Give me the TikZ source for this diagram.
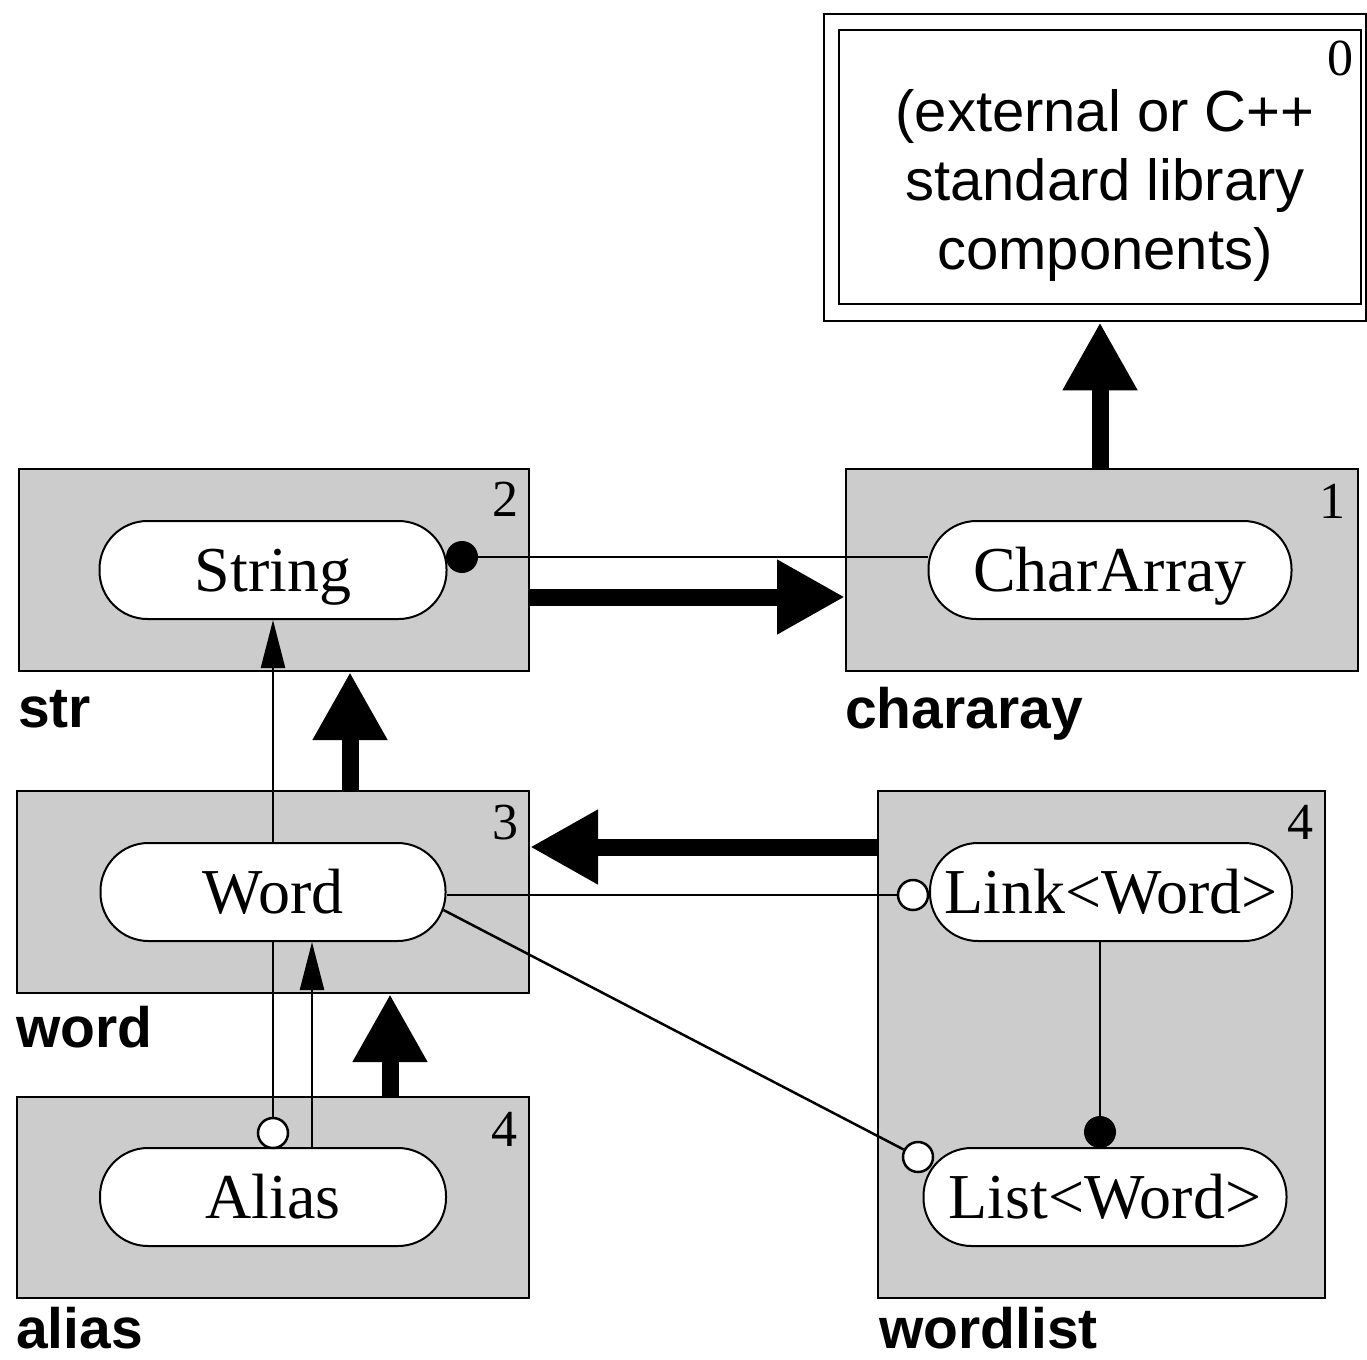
\documentclass[tikz,border=0pt]{standalone}
\usepackage{fontspec}
\setmainfont{Liberation Serif}
\setsansfont{Liberation Sans}
\usetikzlibrary{arrows.meta}
\begin{document}
\begin{tikzpicture}[x=1pt,y=-1pt,
  comp/.style={draw, line width=2pt, fill=black!20, inner sep=0pt},
  pill/.style={draw, line width=2pt, fill=white, rounded corners=48pt, minimum height=98pt, inner sep=0pt, text height=50pt, text depth=8pt, font=\fontsize{64}{70}\selectfont},
  num/.style={inner sep=0pt, anchor=north east, font=\fontsize{52}{56}\selectfont},
  pkg/.style={inner sep=0pt, anchor=base west, font=\sffamily\bfseries\fontsize{57}{60}\selectfont},
  conn/.style={line width=2.5pt},
  thinarrow/.style={line width=2.5pt, -{Triangle[width=24pt,length=48pt]}},
  bigarrow/.style={line width=17pt, -{Triangle[width=70pt,length=68pt]}},
  fdot/.style={circle, fill=black, draw, line width=2pt, minimum size=30pt, inner sep=0pt},
  odot/.style={circle, fill=white, draw, line width=2.5pt, minimum size=30pt, inner sep=0pt}]
\useasboundingbox (0,0) rectangle (1367,1359);

% external box
\node[draw, line width=2.5pt, minimum width=542pt, minimum height=307pt, inner sep=0pt] (extout) at (1095,167.5) {};
\node[draw, line width=2.5pt, minimum width=522pt, minimum height=274pt, inner sep=0pt] (ext) at (1100,167) {};
\node[align=center, font=\sffamily\fontsize{58}{69}\selectfont, inner sep=0pt] (exttext) at (1105,186) {(external or C++\\standard library\\components)};
\node[num] (n0) at ([xshift=-9pt,yshift=-12pt]ext.north east) {0};

% component boxes
\node[comp, minimum width=510pt, minimum height=202pt] (strbox) at (274,570) {};
\node[comp, minimum width=512pt, minimum height=202pt] (charbox) at (1102,570) {};
\node[comp, minimum width=512pt, minimum height=202pt] (wordbox) at (273,892) {};
\node[comp, minimum width=512pt, minimum height=201pt] (aliasbox) at (273,1197.5) {};
\node[comp, minimum width=447pt, minimum height=507pt] (wlbox) at (1101.5,1044.5) {};

% level numbers
\node[num] (n2) at ([xshift=-11pt,yshift=-14pt]strbox.north east) {2};
\node[num] (n1) at ([xshift=-13pt,yshift=-16pt]charbox.north east) {1};
\node[num] (n3) at ([xshift=-11pt,yshift=-15pt]wordbox.north east) {3};
\node[num] (n4a) at ([xshift=-12pt,yshift=-16pt]aliasbox.north east) {4};
\node[num] (n4b) at ([xshift=-12pt,yshift=-15pt]wlbox.north east) {4};

% package labels
\node[pkg] (lstr) at ([yshift=-55pt]strbox.south west) {str};
\node[pkg] (lchar) at ([yshift=-56pt]charbox.south west) {chararay};
\node[pkg] (lword) at ([yshift=-53pt]wordbox.south west) {word};
\node[pkg] (lalias) at ([yshift=-49pt]aliasbox.south west) {alias};
\node[pkg] (lwl) at ([xshift=2pt,yshift=-49pt]wlbox.south west) {wordlist};

% pills
\node[pill, minimum width=347pt] (String) at (273,570) {String};
\node[pill, minimum width=363pt] (CharArray) at (1110,570) {CharArray};
\node[pill, minimum width=345pt] (Word) at (273,892) {Word};
\node[pill, minimum width=346pt] (Alias) at (273,1197) {Alias};
\node[pill, minimum width=362pt] (Link) at (1111,892) {Link<Word>};
\node[pill, minimum width=363pt] (List) at (1105,1197) {List<Word>};

% thick dependency arrows
\coordinate (a1) at ([xshift=77pt]wordbox.north);
\draw[bigarrow] (a1) -- (a1 |- strbox.south);
\coordinate (a2) at ([yshift=-27pt]strbox.east);
\draw[bigarrow] (a2) -- (a2 -| charbox.west);
\coordinate (a3) at ([yshift=-57pt]wlbox.north west);
\draw[bigarrow] (a3) -- (a3 -| wordbox.east);
\coordinate (a4) at ([xshift=117pt]aliasbox.north);
\draw[bigarrow] (a4) -- (a4 |- wordbox.south);
\coordinate (a5) at ([xshift=-2pt]charbox.north);
\draw[bigarrow] (a5) -- (a5 |- extout.south);

% thin connectors
\node[fdot] (sdot) at (462,557) {};
\draw[conn] (sdot) -- (sdot -| CharArray.west);
\node[odot] (lcirc) at (913,895) {};
\draw[conn] (lcirc -| Word.east) -- (lcirc);
\node[odot] (licirc) at (918,1157) {};
\draw[conn] ([xshift=-3pt,yshift=-18pt]Word.east) -- (licirc);
\node[fdot] (ldot) at (1100,1132) {};
\draw[conn] (Link.south -| ldot) -- (ldot);
\node[odot] (acirc) at (273,1133) {};
\draw[conn] (Word.south) -- (acirc);
\draw[thinarrow] ([xshift=39pt]Alias.north) -- ([xshift=39pt]Word.south);
\draw[thinarrow] (Word.north) -- (String.south);
\end{tikzpicture}
\end{document}
